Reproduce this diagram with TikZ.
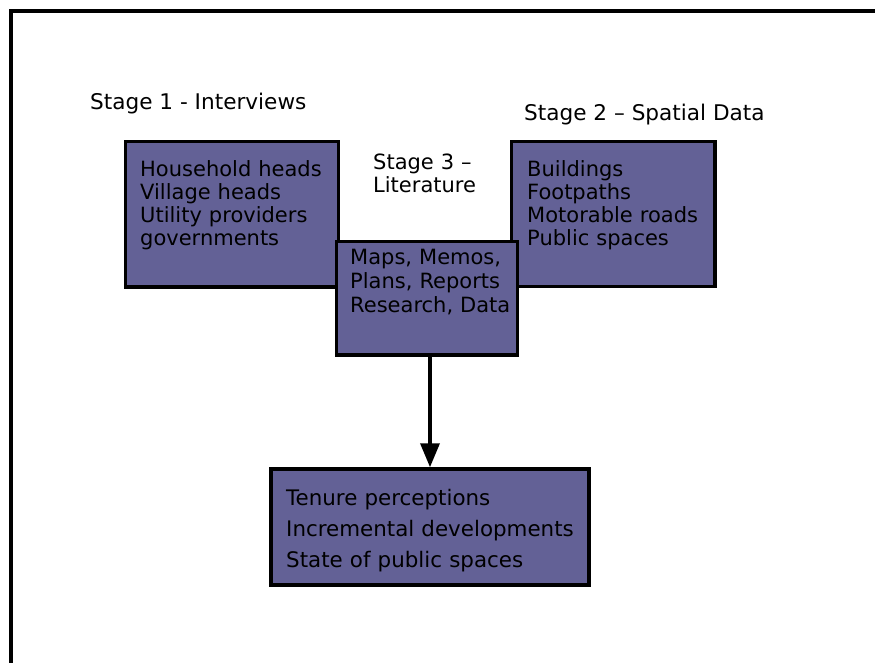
\documentclass[tikz,border=0pt]{standalone}
\usepackage{fontspec}
\setmainfont{DejaVu Sans}
\usetikzlibrary{arrows.meta}
\definecolor{boxfill}{RGB}{99,97,150}
\tikzset{
  stagebox/.style={draw=black, line width=3.5pt, fill=boxfill, rectangle, inner sep=0pt},
  listtext/.style={anchor=base west, inner sep=0pt, align=left, font=\fontsize{21}{23}\selectfont},
  headtext/.style={anchor=base west, inner sep=0pt, align=left, font=\fontsize{21.6}{23}\selectfont},
  flow/.style={line width=3.5pt, -{Triangle[length=24pt,width=19pt]}}
}
\begin{document}
\begin{tikzpicture}[x=1pt, y=-1pt]
\useasboundingbox (0,0) rectangle (875,663);
% outer frame (only the top and left edges fall inside the page)
\draw[line width=4pt] (11,700) -- (11,11) -- (900,11);

% stage headings
\node[headtext] (h1) at (90,110) {Stage 1 - Interviews};
\node[headtext] (h2) at (524,121) {Stage 2 – Spatial Data};
\node[headtext, text width=120pt, font=\fontsize{21}{23}\selectfont] (h3) at (373,170) {Stage 3 –\\Literature};

% stage 1 and stage 2 boxes
\node[stagebox, minimum width=213pt, minimum height=145.5pt] (interviews) at (232,214.25) {};
\node[listtext, text width=200pt] (interviews-list) at (140,177)
  {Household heads\\Village heads\\Utility providers\\governments};

\node[stagebox, minimum width=203.5pt, minimum height=145pt] (spatial) at (613.25,214) {};
\node[listtext, text width=190pt] (spatial-list) at (527,177)
  {Buildings\\Footpaths\\Motorable roads\\Public spaces};

% stage 3 box sits on top of the two others
\node[stagebox, minimum width=181pt, minimum height=113.5pt] (literature) at (427,298.25) {};
\node[listtext, text width=170pt, font=\fontsize{21}{24}\selectfont] (literature-list) at (350,264)
  {Maps, Memos,\\Plans, Reports\\Research, Data};

% outcome box
\node[stagebox, minimum width=318pt, minimum height=116pt] (outcome) at (430,527) {};
\node[listtext, text width=300pt, font=\fontsize{21.4}{31}\selectfont] (outcome-list) at (286,505)
  {Tenure perceptions\\Incremental developments\\State of public spaces};

\draw[flow] (literature.south -| outcome.north) -- (outcome.north);
\end{tikzpicture}
\end{document}
